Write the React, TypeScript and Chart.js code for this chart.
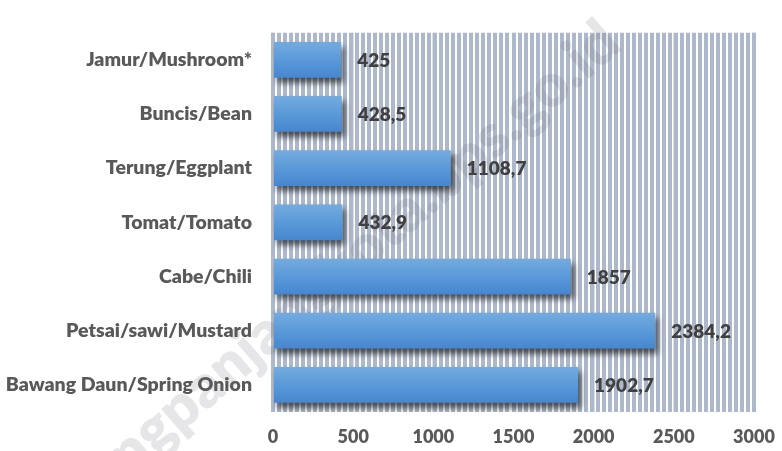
import { useEffect, useRef } from "react";
import { Chart, registerables } from "chart.js";

Chart.register(...registerables);

const categories = [
  "Jamur/Mushroom*",
  "Buncis/Bean",
  "Terung/Eggplant",
  "Tomat/Tomato",
  "Cabe/Chili",
  "Petsai/sawi/Mustard",
  "Bawang Daun/Spring Onion",
];
const values = [425, 428.5, 1108.7, 432.9, 1857, 2384.2, 1902.7];
const xTickValues = [0, 500, 1000, 1500, 2000, 2500, 3000];
const watermarkText = "padangpanjangkota.bps.go.id";

const FONT = "Lato";

const fmt = (v: number) => String(v).replace(".", ",");

const decorPlugin = {
  id: "decor",
  beforeDatasetsDraw(chart: any) {
    const c = chart.ctx;
    c.save();
    c.translate(624, 48);
    c.rotate((-41 * Math.PI) / 180);
    c.font = `800 60px ${FONT}`;
    c.textAlign = "right";
    c.textBaseline = "alphabetic";
    c.fillStyle = "rgba(100,100,110,0.16)";
    c.fillText(watermarkText, 0, 0);
    c.restore();
    c.save();
    c.shadowColor = "rgba(0,0,0,0.6)";
    c.shadowBlur = 6;
    c.shadowOffsetX = 3;
    c.shadowOffsetY = 5;
  },
  afterDatasetsDraw(chart: any) {
    const c = chart.ctx;
    c.restore();
    const meta = chart.getDatasetMeta(0);
    c.save();
    c.font = `800 19px ${FONT}`;
    c.fillStyle = "#404040";
    c.textAlign = "left";
    c.textBaseline = "middle";
    meta.data.forEach((el: any, i: number) => {
      c.fillText(fmt(values[i]), el.x + 16, el.y + 1);
    });
    c.restore();
  },
};

export default function App() {
  const ref = useRef<HTMLCanvasElement | null>(null);
  useEffect(() => {
    document.body.style.margin = "0";
    const canvas = ref.current;
    if (!canvas) return;
    const chart = new Chart(canvas, {
      type: "bar",
      data: {
        labels: categories,
        datasets: [
          {
            data: values,
            backgroundColor: (ctx: any) => {
              const ch = ctx.chart;
              const ys = ch.scales && ch.scales.y;
              if (!ys || ctx.type !== "data") return "#5b9bd5";
              const yc = ys.getPixelForValue(ctx.dataIndex);
              if (!Number.isFinite(yc)) return "#5b9bd5";
              const g = ch.ctx.createLinearGradient(0, yc - 19, 0, yc + 19);
              g.addColorStop(0, "#76acdf");
              g.addColorStop(0.5, "#5a9ad9");
              g.addColorStop(1, "#4485cf");
              return g;
            },
            borderWidth: 0,
            categoryPercentage: 1,
            barPercentage: 0.66,
          },
        ],
      },
      options: {
        indexAxis: "y",
        animation: false,
        responsive: false,
        events: [],
        layout: { padding: { top: 3, right: 28, left: 0, bottom: 0 } },
        plugins: {
          legend: { display: false },
          tooltip: { enabled: false },
        },
        scales: {
          y: {
            grid: { display: false, drawTicks: false },
            border: { display: false },
            ticks: {
              font: { family: FONT, weight: 800, size: 19.5 },
              color: "#595959",
              padding: 21,
            },
            afterFit: (s: any) => {
              s.width = 273;
            },
          },
          x: {
            min: 0,
            max: 3000,
            z: -1,
            afterBuildTicks: (s: any) => {
              s.ticks = xTickValues.map((v) => ({ value: v }));
            },
            ticks: {
              font: { family: FONT, weight: 800, size: 18 },
              color: "#595959",
              padding: 2,
              callback: (v: any) => String(v),
            },
            grid: {
              drawTicks: true,
              tickLength: 12,
              tickColor: "rgba(0,0,0,0)",
              lineWidth: 2,
              color: (ctx: any) =>
                ctx.tick && (ctx.tick.value === 0 || ctx.tick.value === 3000)
                  ? "#c4c4c4"
                  : "#dcdfe4",
            },
            border: { display: false },
            afterFit: (s: any) => {
              s.height = 39;
            },
          },
          xs: {
            type: "linear",
            axis: "x",
            position: "bottom",
            min: 0,
            max: 3000,
            z: -2,
            ticks: { display: false, stepSize: 37.5, maxTicksLimit: 200 },
            grid: { drawTicks: false, lineWidth: 4, color: "#adb8ca" },
            border: { display: false },
            afterFit: (s: any) => {
              s.height = 0;
            },
          },
        },
      } as any,
      plugins: [decorPlugin],
    });
    return () => chart.destroy();
  }, []);
  return (
    <div style={{ width: 782, height: 451 }}>
      <canvas ref={ref} width={782} height={451} style={{ display: "block" }} />
    </div>
  );
}
